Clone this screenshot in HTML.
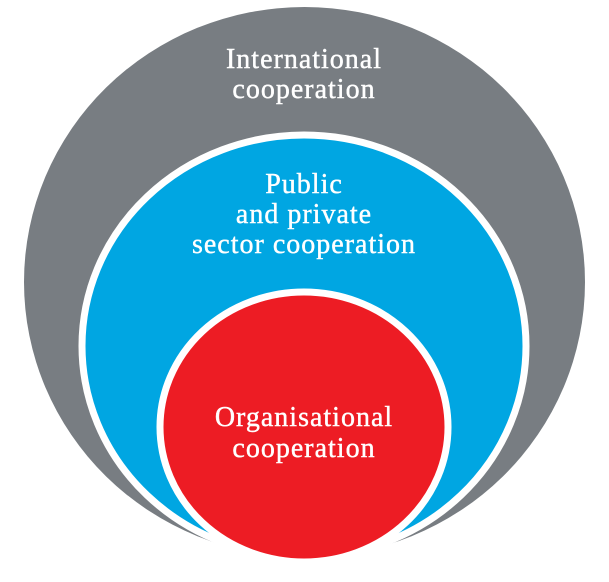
<!DOCTYPE html>
<html><head><style>
html,body{margin:0;padding:0;background:#fff;}
svg{display:block}
text{font-family:"Liberation Serif","DejaVu Serif",serif;fill:#fff;font-size:28px;letter-spacing:1px;text-anchor:middle;stroke:#fff;stroke-width:0.4;}
</style></head><body>
<svg width="609" height="582" viewBox="0 0 609 582">
<ellipse cx="304.5" cy="282" rx="280.5" ry="275" fill="#787d82"/>
<ellipse cx="304" cy="346" rx="222" ry="211" fill="#00a6e2" stroke="#fff" stroke-width="7"/>
<ellipse cx="304" cy="427" rx="144" ry="135" fill="#ed1c24" stroke="#fff" stroke-width="7"/>
<text x="304" y="68">International</text>
<text x="304" y="98">cooperation</text>
<text x="304" y="193">Public</text>
<text x="304" y="223">and private</text>
<text x="304" y="253">sector cooperation</text>
<text x="304" y="426">Organisational</text>
<text x="304" y="457">cooperation</text>
</svg>
</body></html>
